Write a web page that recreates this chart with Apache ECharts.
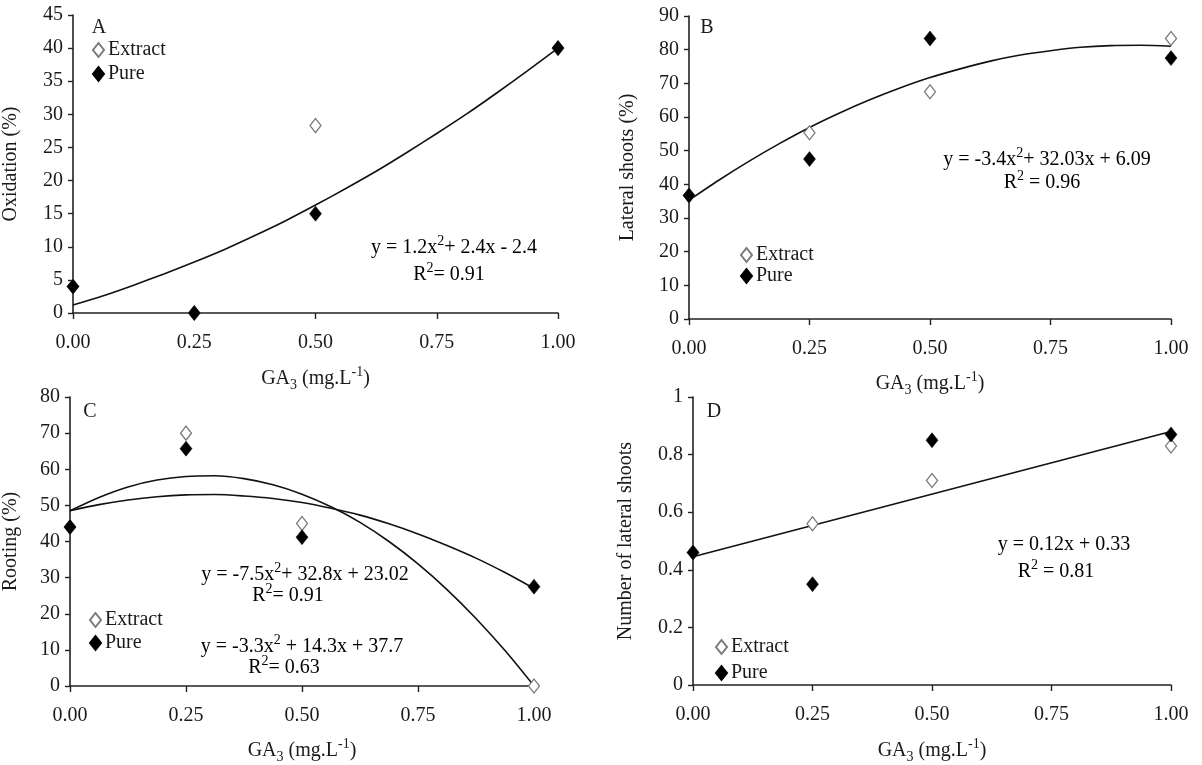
<!DOCTYPE html>
<html>
<head>
<meta charset="utf-8">
<script src="https://cdn.jsdelivr.net/npm/echarts@6/dist/echarts.min.js"></script>
<style>
html,body{margin:0;padding:0;background:#fff;}
#c{width:1202px;height:765px;}
</style>
</head>
<body>
<div id="c"></div>
<script>
// ---- data ----
const doseX = [0, 0.25, 0.5, 1];

const extractA = [4, 0, 28.3, 40];
const pureA    = [4, 0, 15, 40];
const extractB = [36.7, 55.3, 67.5, 83.3];
const pureB    = [36.7, 47.5, 83.3, 77.5];
const extractC = [44, 70, 45, 0];
const pureC    = [44, 65.7, 41.2, 27.5];
const extractD = [0.46, 0.56, 0.71, 0.83];
const pureD    = [0.46, 0.35, 0.85, 0.87];

// fitted trend curves
const trendX   = [0, 0.0625, 0.125, 0.1875, 0.25, 0.3125, 0.375, 0.4375, 0.5,
                  0.5625, 0.625, 0.6875, 0.75, 0.8125, 0.875, 0.9375, 1];
const trendA   = [1.2, 2.6, 4.2, 5.9, 7.7, 9.6, 11.7, 13.9, 16.3,
                  18.8, 21.4, 24.2, 27.1, 30.1, 33.3, 36.6, 40];
const trendB   = [35.3, 41.3, 46.9, 52.1, 56.9, 61.2, 65.1, 68.6, 71.7,
                  74.3, 76.6, 78.4, 79.7, 80.7, 81.2, 81.3, 81.0];
const trendC1  = [48.5, 52.2, 55.1, 57.0, 58.0, 58.2, 57.4, 55.7, 53.1,
                  49.6, 45.3, 40.0, 33.8, 26.7, 18.7, 9.8, 0];
const trendC2  = [48.5, 50.2, 51.5, 52.4, 52.9, 53.0, 52.6, 51.9, 50.8,
                  49.2, 47.3, 44.9, 42.1, 38.9, 35.4, 31.4, 27.0];
const trendDX  = [0, 1];
const trendD   = [0.445, 0.88];

const yTitles = ['Oxidation (%)', 'Lateral shoots (%)', 'Rooting (%)', 'Number of lateral shoots'];
const yMax = [45, 90, 80, 1];
const yStep = [5, 10, 10, 0.2];
const panelLetters = ['A', 'B', 'C', 'D'];

// ---- layout ----
const FONT = 'Liberation Serif';
const FS = 20;
const TXT = '#1a1a1a';
const grids = [
  {left: 73, top: 15, width: 485, height: 298},
  {left: 689, top: 16, width: 482, height: 303},
  {left: 70, top: 397, width: 464, height: 298},
  {left: 693, top: 397, width: 478, height: 299}
];
const yNameGap = [52, 51, 49, 57];
const xNameGap = [52, 51, 51, 52];

const zip = (xs, ys) => xs.map((x, i) => [x, ys[i]]);

const richBase = {
  t: {fontFamily: FONT, fontSize: FS, color: TXT, lineHeight: 27},
  s: {fontFamily: FONT, fontSize: 14, color: TXT, verticalAlign: 'top', lineHeight: 12},
  b: {fontFamily: FONT, fontSize: 14, color: TXT, verticalAlign: 'bottom', lineHeight: 10}
};

const xAxes = grids.map((g, i) => ({
  type: 'value', gridIndex: i, min: 0, max: 1, interval: 0.25,
  axisLine: {show: true, onZero: false, lineStyle: {color: '#222', width: 1.6}},
  axisTick: {show: true, length: 6, lineStyle: {color: '#222', width: 1.4}},
  splitLine: {show: false},
  axisLabel: {fontFamily: FONT, fontSize: FS, color: TXT, margin: 20,
              formatter: v => v.toFixed(2)},
  name: '{t|GA}{b|3}{t| (mg.L}{s|-1}{t|)}',
  nameLocation: 'middle', nameGap: xNameGap[i],
  nameTextStyle: {rich: richBase}
}));

const yAxes = grids.map((g, i) => ({
  type: 'value', gridIndex: i, min: 0, max: yMax[i], interval: yStep[i],
  axisLine: {show: true, onZero: false, lineStyle: {color: '#222', width: 1.6}},
  axisTick: {show: true, length: 5, lineStyle: {color: '#222', width: 1.4}},
  splitLine: {show: false},
  axisLabel: {fontFamily: FONT, fontSize: FS, color: TXT, margin: 10},
  name: yTitles[i], nameLocation: 'middle', nameGap: yNameGap[i],
  nameTextStyle: {fontFamily: FONT, fontSize: FS, color: TXT}
}));

function trend(i, xs, ys) {
  return {type: 'line', xAxisIndex: i, yAxisIndex: i, data: zip(xs, ys),
    smooth: xs.length > 2 ? 0.3 : false, showSymbol: false, symbol: 'none',
    lineStyle: {color: '#111', width: 1.6}, silent: true, z: 2, clip: false};
}
function extract(i, ys) {
  return {type: 'scatter', name: 'Extract', xAxisIndex: i, yAxisIndex: i,
    data: zip(doseX, ys), symbol: 'diamond', symbolSize: [11, 14], clip: false,
    itemStyle: {color: '#fff', borderColor: '#7a7a7a', borderWidth: 1.3, opacity: 1}, z: 3};
}
function pure(i, ys) {
  return {type: 'scatter', name: 'Pure', xAxisIndex: i, yAxisIndex: i,
    data: zip(doseX, ys), symbol: 'diamond', symbolSize: [12, 15], clip: false,
    itemStyle: {color: '#000', borderColor: '#000', borderWidth: 0.5, opacity: 1}, z: 4};
}

const series = [
  trend(0, trendX, trendA), extract(0, extractA), pure(0, pureA),
  trend(1, trendX, trendB), extract(1, extractB), pure(1, pureB),
  trend(2, trendX, trendC1), trend(2, trendX, trendC2), extract(2, extractC), pure(2, pureC),
  trend(3, trendDX, trendD), extract(3, extractD), pure(3, pureD)
];

const legendPos = [
  {left: 92, top: 40, gap: 4},
  {left: 740, top: 245, gap: 1},
  {left: 89, top: 610, gap: 3},
  {left: 715, top: 637, gap: 6}
];
const legends = legendPos.map(p => ({
  data: ['Extract', 'Pure'], orient: 'vertical', left: p.left, top: p.top,
  itemGap: p.gap, itemWidth: 11, itemHeight: 14, padding: 0, icon: 'diamond',
  selectedMode: false,
  textStyle: {fontFamily: FONT, fontSize: FS, color: TXT, lineHeight: 20, padding: [0, 0, 0, -1]}
}));

const letterPos = [[99, 28], [707, 28], [90, 412], [714, 412]];
const equations = [
  {x: 454, y: 248, text: '{t|y = 1.2x}{s|2}{t|+ 2.4x - 2.4}'},
  {x: 449, y: 275, text: '{t|R}{s|2}{t|= 0.91}'},
  {x: 1047, y: 160, text: '{t|y = -3.4x}{s|2}{t|+ 32.03x + 6.09}'},
  {x: 1042, y: 183, text: '{t|R}{s|2}{t| = 0.96}'},
  {x: 305, y: 575, text: '{t|y = -7.5x}{s|2}{t|+ 32.8x + 23.02}'},
  {x: 288, y: 596, text: '{t|R}{s|2}{t|= 0.91}'},
  {x: 302, y: 647, text: '{t|y = -3.3x}{s|2}{t| + 14.3x + 37.7}'},
  {x: 284, y: 668, text: '{t|R}{s|2}{t|= 0.63}'},
  {x: 1064, y: 545, text: '{t|y = 0.12x + 0.33}'},
  {x: 1056, y: 572, text: '{t|R}{s|2}{t| = 0.81}'}
];

const graphics = [];
letterPos.forEach((p, i) => graphics.push({
  type: 'text', x: p[0], y: p[1], z: 10,
  style: {text: panelLetters[i], fontFamily: FONT, fontSize: FS, fill: TXT,
          align: 'center', verticalAlign: 'middle'}
}));
equations.forEach(e => graphics.push({
  type: 'text', x: e.x, y: e.y, z: 10,
  style: {text: e.text, rich: richBase, align: 'center', verticalAlign: 'middle'}
}));

const chart = echarts.init(document.getElementById('c'), null, {renderer: 'canvas'});
chart.setOption({
  backgroundColor: '#fff',
  animation: false,
  grid: grids,
  xAxis: xAxes,
  yAxis: yAxes,
  legend: legends,
  series: series,
  graphic: graphics
});
</script>
</body>
</html>
